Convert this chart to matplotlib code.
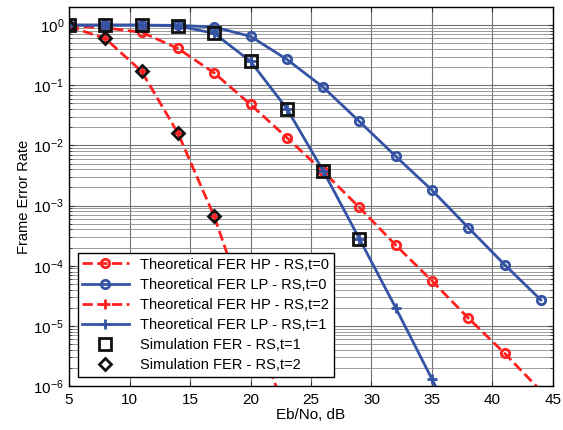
import numpy as np
import matplotlib
matplotlib.use("Agg")
import matplotlib.pyplot as plt

plt.rcParams['font.family'] = ['Liberation Sans', 'DejaVu Sans']
plt.rcParams['mathtext.default'] = 'regular'

# Eb/No points (dB)
ebno = [5, 8, 11, 14, 17, 20, 23, 26, 29, 32, 35, 38, 41, 44]

# theoretical curves
fer_hp_t0 = [0.97, 0.9, 0.76, 0.41, 0.16, 0.048, 0.0135, 0.0037, 9.3e-4,
             2.2e-4, 5.6e-5, 1.35e-5, 3.5e-6, 8.3e-7]
fer_lp_t0 = [1.0, 1.0, 1.0, 0.99, 0.93, 0.65, 0.27, 0.093, 0.025,
             0.0066, 0.0018, 4.3e-4, 1.04e-4, 2.7e-5]
ebno_hp_t2 = [5, 8, 11, 14, 17, 20, 23]
fer_hp_t2 = [0.95, 0.6, 0.17, 0.016, 6.6e-4, 1.2e-5, 3.5e-7]
ebno_lp_t1 = [5, 8, 11, 14, 17, 20, 23, 26, 29, 32, 35, 38]
fer_lp_t1 = [1.0, 1.0, 1.0, 0.97, 0.73, 0.25, 0.041, 0.0038, 2.8e-4,
             2.0e-5, 1.3e-6, 8e-8]

# simulation points
sim_ebno_t1 = [5, 8, 11, 14, 17, 20, 23, 26, 29]
sim_fer_t1 = [1.0, 1.0, 1.0, 0.97, 0.73, 0.25, 0.041, 0.0037, 2.8e-4]
sim_ebno_t2 = [5, 8, 11, 14, 17]
sim_fer_t2 = [0.95, 0.6, 0.17, 0.016, 6.6e-4]

red = '#ff2020'
blue = '#3453a4'

fig = plt.figure(figsize=(5.63, 4.30), dpi=100)
ax = fig.add_axes([0.1226, 0.1023, 0.8596, 0.8814])

ax.semilogy(ebno, fer_hp_t0, '--o', color=red, lw=2, ms=6, mew=2,
            mfc='none', label='Theoretical FER HP - RS,t=0')
ax.semilogy(ebno, fer_lp_t0, '-o', color=blue, lw=2, ms=6, mew=2,
            mfc='none', label='Theoretical FER LP - RS,t=0')
ax.semilogy(ebno_hp_t2, fer_hp_t2, '--+', color=red, lw=2, ms=7, mew=2,
            label='Theoretical FER HP - RS,t=2')
ax.semilogy(ebno_lp_t1, fer_lp_t1, '-+', color=blue, lw=2, ms=7, mew=2,
            label='Theoretical FER LP - RS,t=1')
ax.semilogy(sim_ebno_t1, sim_fer_t1, 's', color='#111111', ms=8, mew=2,
            mfc='none', label='Simulation FER - RS,t=1')
ax.semilogy(sim_ebno_t2, sim_fer_t2, 'D', color='#111111', ms=6, mew=2,
            mfc='none', label='Simulation FER - RS,t=2')

ax.set_xlim(5, 45)
ax.set_ylim(1e-6, 2)
ax.set_xticks(range(5, 50, 5))
ax.set_yticks([10.0 ** k for k in range(-6, 1)])

ax.grid(True, which='major', color='0.45', lw=0.8)
ax.grid(True, which='minor', axis='y', color='0.55', lw=0.6)
ax.tick_params(which='both', direction='in', top=True, right=True,
               labelsize=11, color='0.2')
ax.tick_params(axis='x', pad=5)
for s in ax.spines.values():
    s.set_linewidth(1.0)

ax.set_xlabel('Eb/No, dB', fontsize=11, labelpad=1)
ax.set_ylabel('Frame Error Rate', fontsize=10.5, labelpad=2)

leg = ax.legend(loc='lower left', bbox_to_anchor=(0.018, 0.025), fontsize=10.5,
                fancybox=False, edgecolor='black', framealpha=1,
                borderaxespad=0, handlelength=3.2, borderpad=0.3,
                labelspacing=0.42)
leg.get_frame().set_linewidth(1.0)

fig.savefig('out.png', dpi=100)
